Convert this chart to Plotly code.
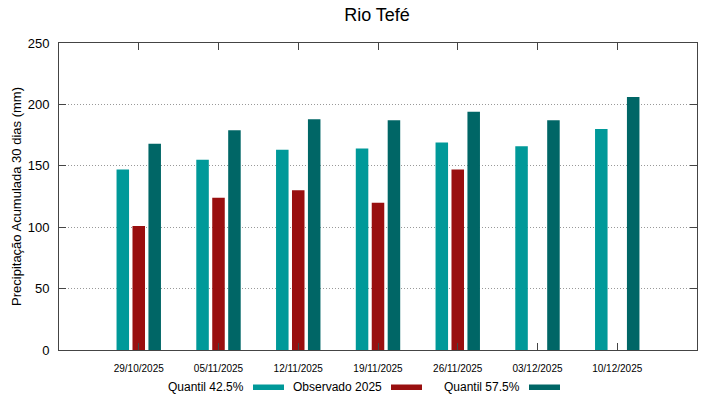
import plotly.graph_objects as go

dates = ["29/10/2025", "05/11/2025", "12/11/2025", "19/11/2025",
         "26/11/2025", "03/12/2025", "10/12/2025"]
q425 = [147, 155, 163, 164, 169, 166, 180]
obs2025 = [101, 124, 130, 120, 147, None, None]
q575 = [168, 179, 188, 187, 194, 187, 206]

names = ["Quantil 42.5%", "Observado 2025", "Quantil 57.5%"]
colors = ["#009999", "#990f0f", "#006666"]
series = [q425, obs2025, q575]

W, H = 719, 399
L, R, T, B = 59, 697, 43, 350

fig = go.Figure()
for n, c, s in zip(names, colors, series):
    fig.add_trace(go.Bar(x=dates, y=s, name=n, marker=dict(color=c, line=dict(width=0)),
                         showlegend=False))

def px(x):
    return (x - L) / (R - L)

def py(y):
    return (B - y) / (B - T)

# custom legend (text followed by swatch, gnuplot style)
legend_items = [(246, 253, 284), (384, 391, 422), (522, 529, 560)]
for (tx, s0, s1), n, c in zip(legend_items, names, colors):
    fig.add_annotation(x=px(tx), y=py(387), xref="paper", yref="paper", text=n,
                       showarrow=False, xanchor="right", yanchor="middle",
                       font=dict(size=12, color="#000000"))
    fig.add_shape(type="rect", xref="paper", yref="paper", x0=px(s0), x1=px(s1),
                  y0=py(390), y1=py(384.5), fillcolor=c, line=dict(width=0))

fig.update_layout(
    width=W, height=H,
    margin=dict(l=L, r=W - R, t=T, b=H - B, pad=0),
    paper_bgcolor="white", plot_bgcolor="white",
    font=dict(family="Liberation Sans, Arial, sans-serif", color="#000000"),
    title=dict(text="Rio Tefé", x=(377) / W, xanchor="center", y=1 - 15 / H, yanchor="middle",
               font=dict(size=18)),
    barmode="group", bargap=0.4, bargroupgap=0.215,
    xaxis=dict(type="category", range=[-1, 7], showline=True, linecolor="#444444", linewidth=1,
               mirror="ticks", ticks="inside", ticklen=7, tickcolor="#444444",
               showgrid=False, tickfont=dict(size=10), ticklabelstandoff=9, fixedrange=True),
    yaxis=dict(range=[0, 250], tickvals=[0, 50, 100, 150, 200, 250], showline=True,
               linecolor="#444444", linewidth=1, mirror="ticks", ticks="inside", ticklen=7,
               tickcolor="#444444", showgrid=True, gridcolor="#999999", griddash="1px,2px",
               gridwidth=1, zeroline=False, tickfont=dict(size=13), ticklabelstandoff=6,
               fixedrange=True,
               title=dict(text="Precipitação Acumulada 30 dias (mm)", font=dict(size=13),
                          standoff=3)),
)

fig.write_html("out.html", config={"displayModeBar": False},
               post_script="document.body.style.margin='0';")
